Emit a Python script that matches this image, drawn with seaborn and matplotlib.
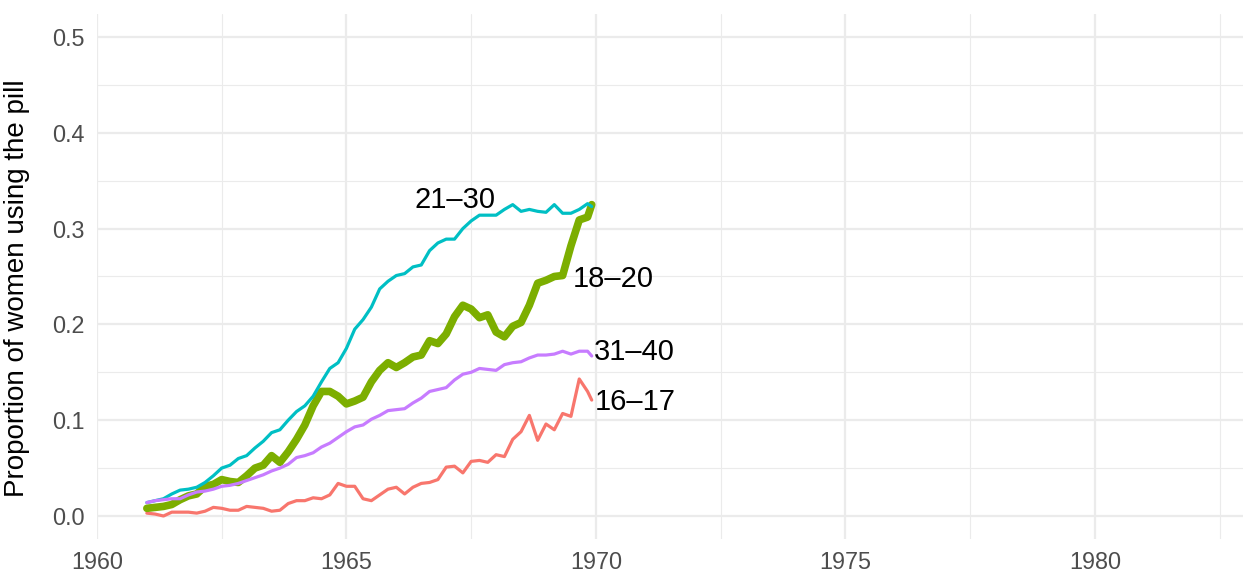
import numpy as np
import pandas as pd
import matplotlib
matplotlib.use("Agg")
import matplotlib.pyplot as plt
import seaborn as sns

# months since Jan 1961 (every 2 months, last point Dec 1969)
months = list(range(0, 107, 2)) + [107]

age_16_17 = [0.003, 0.002, 0.000, 0.004, 0.004, 0.004, 0.003, 0.005, 0.009, 0.008,
             0.006, 0.006, 0.010, 0.009, 0.008, 0.005, 0.006, 0.013, 0.016, 0.016,
             0.019, 0.018, 0.022, 0.034, 0.031, 0.031, 0.018, 0.016, 0.022, 0.028,
             0.030, 0.023, 0.030, 0.034, 0.035, 0.038, 0.051, 0.052, 0.045, 0.057,
             0.058, 0.056, 0.064, 0.062, 0.080, 0.088, 0.105, 0.079, 0.096, 0.090,
             0.107, 0.104, 0.143, 0.130, 0.121]
age_18_20 = [0.008, 0.009, 0.010, 0.012, 0.017, 0.021, 0.023, 0.031, 0.033, 0.038,
             0.036, 0.035, 0.042, 0.050, 0.053, 0.063, 0.056, 0.067, 0.080, 0.095,
             0.115, 0.130, 0.130, 0.125, 0.117, 0.120, 0.124, 0.140, 0.152, 0.160,
             0.155, 0.160, 0.166, 0.168, 0.183, 0.180, 0.190, 0.208, 0.220, 0.216,
             0.207, 0.210, 0.192, 0.187, 0.198, 0.202, 0.220, 0.243, 0.246, 0.250,
             0.251, 0.282, 0.309, 0.312, 0.325]
age_21_30 = [0.014, 0.016, 0.018, 0.023, 0.027, 0.028, 0.030, 0.035, 0.042, 0.050,
             0.053, 0.060, 0.063, 0.071, 0.078, 0.087, 0.090, 0.100, 0.109, 0.115,
             0.125, 0.140, 0.154, 0.160, 0.175, 0.195, 0.205, 0.218, 0.237, 0.245,
             0.251, 0.253, 0.260, 0.262, 0.277, 0.285, 0.289, 0.289, 0.300, 0.308,
             0.314, 0.314, 0.314, 0.320, 0.325, 0.318, 0.320, 0.318, 0.317, 0.325,
             0.316, 0.316, 0.320, 0.326, 0.323]
age_31_40 = [0.014, 0.016, 0.017, 0.018, 0.018, 0.022, 0.025, 0.026, 0.028, 0.031,
             0.032, 0.034, 0.037, 0.040, 0.043, 0.047, 0.050, 0.054, 0.061, 0.063,
             0.066, 0.072, 0.076, 0.082, 0.088, 0.093, 0.095, 0.101, 0.105, 0.110,
             0.111, 0.112, 0.118, 0.123, 0.130, 0.132, 0.134, 0.142, 0.148, 0.150,
             0.154, 0.153, 0.152, 0.158, 0.160, 0.161, 0.165, 0.168, 0.168, 0.169,
             0.172, 0.169, 0.172, 0.172, 0.167]

groups = ["16\u201317", "18\u201320", "21\u201330", "31\u201340"]
series = [age_16_17, age_18_20, age_21_30, age_31_40]
colors = ["#F8766D", "#7CAE00", "#00BFC4", "#C77CFF"]
widths = [2.3, 5.5, 2.3, 2.3]

# where the direct labels sit (year, proportion)
label_x = [1969.98, 1969.54, 1967.98, 1969.96]
label_y = [0.119, 0.247, 0.330, 0.171]
label_ha = ["left", "left", "right", "left"]

year = [1961 + m / 12 for m in months]
df = pd.concat([pd.DataFrame({"year": year, "prop": s, "age": g})
                for g, s in zip(groups, series)], ignore_index=True)

sns.set_theme(style="whitegrid")
plt.rcParams["font.family"] = ["Liberation Sans", "DejaVu Sans"]

fig = plt.figure(figsize=(12.43, 5.83), dpi=100)
ax = fig.add_axes([0.078, 0.0755, 0.922, 0.9005])

for g, c, w in zip(groups, colors, widths):
    sns.lineplot(data=df[df["age"] == g], x="year", y="prop", color=c,
                 linewidth=w, ax=ax, legend=False)

for g, x, y, ha in zip(groups, label_x, label_y, label_ha):
    ax.text(x, y, g, fontsize=21, ha=ha, va="center", color="black")

ax.set_xlim(1960, 1982.97)
ax.set_ylim(-0.024, 0.524)
ax.set_xticks([1960, 1965, 1970, 1975, 1980])
ax.set_xticks(np.arange(1962.5, 1983, 5), minor=True)
ax.set_yticks([0.0, 0.1, 0.2, 0.3, 0.4, 0.5])
ax.set_yticks(np.arange(0.05, 0.5, 0.1), minor=True)
ax.set_yticklabels(["0.0", "0.1", "0.2", "0.3", "0.4", "0.5"])

ax.grid(which="major", color="#EBEBEB", linewidth=1.6)
ax.grid(which="minor", color="#EBEBEB", linewidth=0.8)
for sp in ax.spines.values():
    sp.set_visible(False)
ax.tick_params(which="both", length=0, labelsize=16.8, colors="#4D4D4D", pad=9)
ax.set_xlabel("")
ax.set_ylabel("Proportion of women using the pill", fontsize=20, color="black")
ax.yaxis.set_label_coords(-0.058, 0.478)

fig.savefig("out.png", dpi=100, facecolor="white")
